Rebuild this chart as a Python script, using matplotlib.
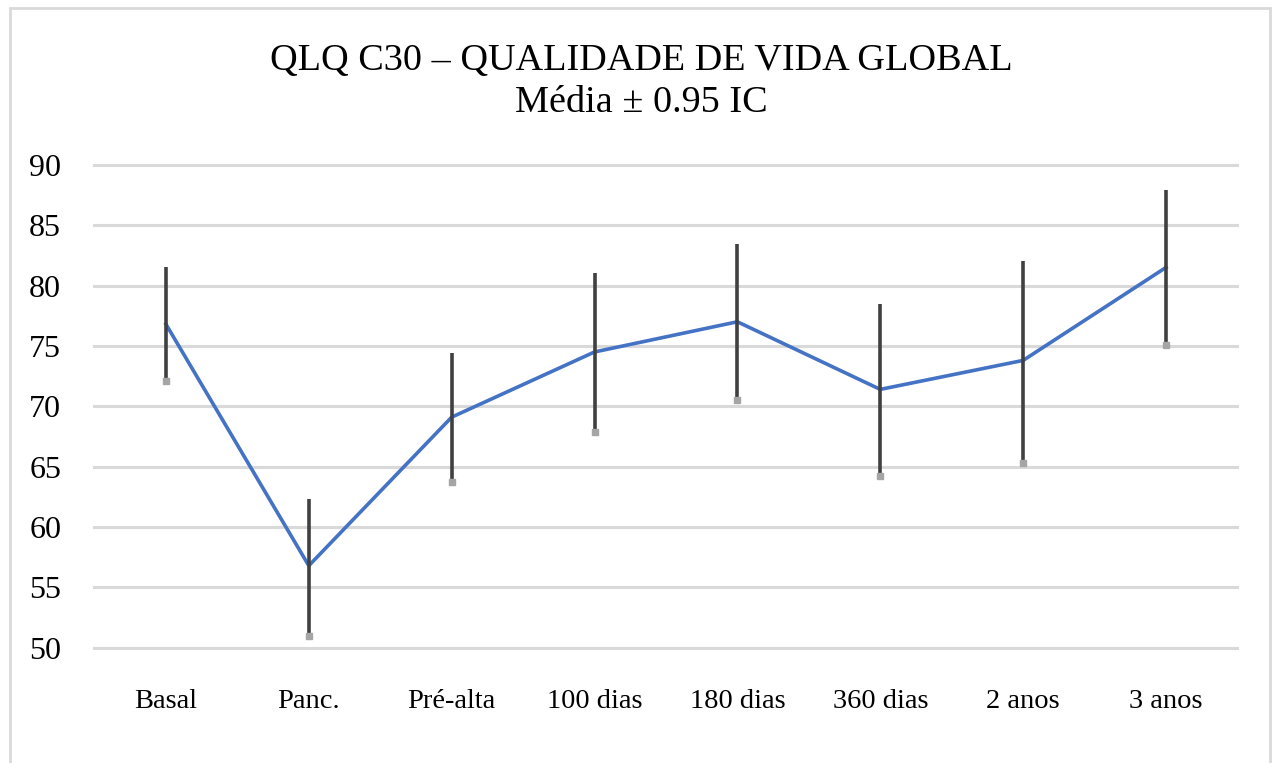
import matplotlib.pyplot as plt
from matplotlib.patches import Rectangle

plt.rcParams['font.family'] = ['Liberation Serif', 'DejaVu Serif']

# dados
momentos = ['Basal', 'Panc.', 'Pré-alta', '100 dias', '180 dias', '360 dias', '2 anos', '3 anos']
media = [76.8, 56.8, 69.1, 74.5, 77.0, 71.4, 73.8, 81.5]
ic_sup = [81.5, 62.3, 74.4, 81.0, 83.4, 78.5, 82.0, 87.9]
ic_inf = [72.1, 51.0, 63.7, 67.9, 70.5, 64.2, 65.3, 75.1]

fig = plt.figure(figsize=(12.77, 7.63), dpi=100)
ax = fig.add_axes([0.074, 0.151, 0.895, 0.633])

x = list(range(len(momentos)))

ax.plot(x, media, color='#4472C4', lw=2.6, zorder=3)
ax.vlines(x, ic_inf, ic_sup, color='#404040', lw=2.6, zorder=4)
ax.plot(x, ic_inf, ls='none', marker='s', ms=4.5, color='#a5a5a5', zorder=5)

ax.set_xlim(-0.5, 7.5)
ax.set_ylim(50, 90)
ax.set_yticks(range(50, 91, 5))
ax.set_xticks(x)
ax.set_xticklabels(momentos, fontsize=20.5)
ax.tick_params(axis='x', length=0, pad=30)
ax.tick_params(axis='y', length=0, pad=24, labelsize=23)
ax.yaxis.grid(True, color='#d9d9d9', lw=2.2)
for gl in ax.get_ygridlines():
    gl.set_clip_on(False)
ax.set_axisbelow(True)
for s in ax.spines.values():
    s.set_visible(False)

fig.text(0.502, 0.921, 'QLQ C30 – QUALIDADE DE VIDA GLOBAL', ha='center', va='center', fontsize=27.5)
fig.text(0.502, 0.865, 'Média ± 0.95 IC', ha='center', va='center', fontsize=27.5)

fig.patches.append(Rectangle((10 / 1277, -0.05), 1260 / 1277, 1.04, transform=fig.transFigure,
                             fill=False, edgecolor='#d9d9d9', lw=2))

fig.savefig('out.png', dpi=100)
